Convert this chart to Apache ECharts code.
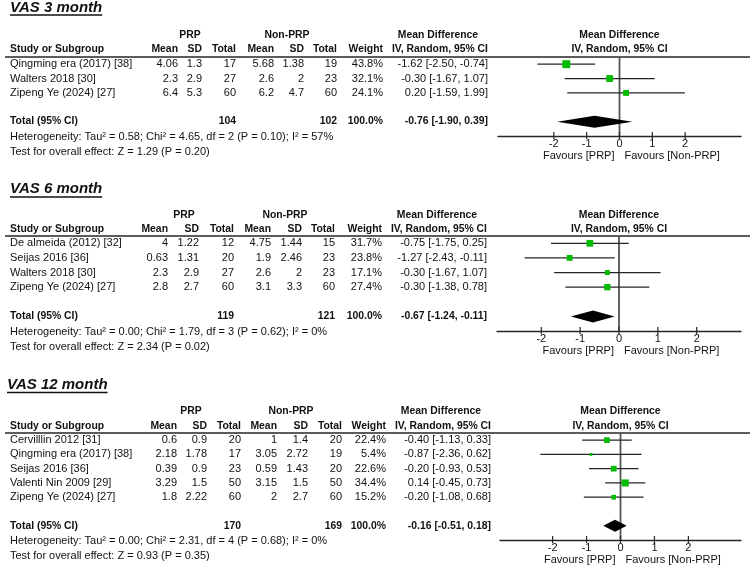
<!DOCTYPE html>
<html><head><meta charset="utf-8">
<script src="https://cdn.jsdelivr.net/npm/echarts@6/dist/echarts.min.js"></script>
<style>html,body{margin:0;padding:0;background:#fff}#c{width:750px;height:584px}</style>
</head><body><div id="c"></div>
<script>
// ---------------- DATA ----------------
const titles = ['VAS 3 month', 'VAS 6 month', 'VAS 12 month'];
const tickValues = [-2, -1, 0, 1, 2];

// VAS 3 month
const p1Studies = ['Qingming era (2017) [38]', 'Walters 2018 [30]', 'Zipeng Ye (2024) [27]'];
const p1PrpMean = [4.06, 2.3, 6.4];
const p1PrpSD = [1.3, 2.9, 5.3];
const p1PrpN = [17, 27, 60];
const p1CtlMean = [5.68, 2.6, 6.2];
const p1CtlSD = [1.38, 2, 4.7];
const p1CtlN = [19, 23, 60];
const p1Weight = [43.8, 32.1, 24.1];
const p1MD = [-1.62, -0.30, 0.20];
const p1Lo = [-2.50, -1.67, -1.59];
const p1Hi = [-0.74, 1.07, 1.99];
const p1TotalN = [104, 102];
const p1TotalMD = [-0.76, -1.90, 0.39];
const p1Het = 'Heterogeneity: Tau² = 0.58; Chi² = 4.65, df = 2 (P = 0.10); I² = 57%';
const p1Test = 'Test for overall effect: Z = 1.29 (P = 0.20)';

// VAS 6 month
const p2Studies = ['De almeida (2012) [32]', 'Seijas 2016 [36]', 'Walters 2018 [30]', 'Zipeng Ye (2024) [27]'];
const p2PrpMean = [4, 0.63, 2.3, 2.8];
const p2PrpSD = [1.22, 1.31, 2.9, 2.7];
const p2PrpN = [12, 20, 27, 60];
const p2CtlMean = [4.75, 1.9, 2.6, 3.1];
const p2CtlSD = [1.44, 2.46, 2, 3.3];
const p2CtlN = [15, 23, 23, 60];
const p2Weight = [31.7, 23.8, 17.1, 27.4];
const p2MD = [-0.75, -1.27, -0.30, -0.30];
const p2Lo = [-1.75, -2.43, -1.67, -1.38];
const p2Hi = [0.25, -0.11, 1.07, 0.78];
const p2TotalN = [119, 121];
const p2TotalMD = [-0.67, -1.24, -0.11];
const p2Het = 'Heterogeneity: Tau² = 0.00; Chi² = 1.79, df = 3 (P = 0.62); I² = 0%';
const p2Test = 'Test for overall effect: Z = 2.34 (P = 0.02)';

// VAS 12 month
const p3Studies = ['Cervilllin 2012 [31]', 'Qingming era (2017) [38]', 'Seijas 2016 [36]', 'Valenti Nin 2009 [29]', 'Zipeng Ye (2024) [27]'];
const p3PrpMean = [0.6, 2.18, 0.39, 3.29, 1.8];
const p3PrpSD = [0.9, 1.78, 0.9, 1.5, 2.22];
const p3PrpN = [20, 17, 23, 50, 60];
const p3CtlMean = [1, 3.05, 0.59, 3.15, 2];
const p3CtlSD = [1.4, 2.72, 1.43, 1.5, 2.7];
const p3CtlN = [20, 19, 20, 50, 60];
const p3Weight = [22.4, 5.4, 22.6, 34.4, 15.2];
const p3MD = [-0.40, -0.87, -0.20, 0.14, -0.20];
const p3Lo = [-1.13, -2.36, -0.93, -0.45, -1.08];
const p3Hi = [0.33, 0.62, 0.53, 0.73, 0.68];
const p3TotalN = [170, 169];
const p3TotalMD = [-0.16, -0.51, 0.18];
const p3Het = 'Heterogeneity: Tau² = 0.00; Chi² = 2.31, df = 4 (P = 0.68); I² = 0%';
const p3Test = 'Test for overall effect: Z = 0.93 (P = 0.35)';

// ---------------- LAYOUT ----------------
const layout = [
  {titleX: 10, titleY: 8, ulY: 15, grpY: 35, hdrY: 49, lineY: 57, axisY: 136,
   cols: [178, 202, 236, 274, 304, 337, 383, 488], prpC: 190, ctlC: 287,
   xMin: -3.7, xMax: 3.7, gridL: 498, gridR: 741},
  {titleX: 10, titleY: 189, ulY: 197, grpY: 215, hdrY: 229, lineY: 236, axisY: 331,
   cols: [168, 199, 234, 271, 302, 335, 382, 487], prpC: 184, ctlC: 285,
   xMin: -3.14, xMax: 3.14, gridL: 497, gridR: 741},
  {titleX: 7, titleY: 384.5, ulY: 392.5, grpY: 411, hdrY: 426, lineY: 433, axisY: 540,
   cols: [177, 207, 241, 277, 308, 342, 386, 491], prpC: 191, ctlC: 291,
   xMin: -3.55, xMax: 3.55, gridL: 500, gridR: 741}
];

const panels = [
  {studies: p1Studies, pm: p1PrpMean, ps: p1PrpSD, pn: p1PrpN, cm: p1CtlMean, cs: p1CtlSD, cn: p1CtlN,
   w: p1Weight, md: p1MD, lo: p1Lo, hi: p1Hi, totN: p1TotalN, tot: p1TotalMD, het: p1Het, test: p1Test},
  {studies: p2Studies, pm: p2PrpMean, ps: p2PrpSD, pn: p2PrpN, cm: p2CtlMean, cs: p2CtlSD, cn: p2CtlN,
   w: p2Weight, md: p2MD, lo: p2Lo, hi: p2Hi, totN: p2TotalN, tot: p2TotalMD, het: p2Het, test: p2Test},
  {studies: p3Studies, pm: p3PrpMean, ps: p3PrpSD, pn: p3PrpN, cm: p3CtlMean, cs: p3CtlSD, cn: p3CtlN,
   w: p3Weight, md: p3MD, lo: p3Lo, hi: p3Hi, totN: p3TotalN, tot: p3TotalMD, het: p3Het, test: p3Test}
];

const FF = '"Liberation Sans", Arial, sans-serif';
const TXT = '#111';
const GREEN = '#00bb00';
const LINE = '#262626';
const BOLD_SIZE = 10.4;

const chart = echarts.init(document.getElementById('c'), null, {renderer: 'canvas'});

const grids = [], xAxes = [], yAxes = [], series = [];
panels.forEach((p, i) => {
  const L = layout[i];
  const n = p.studies.length;
  grids.push({left: L.gridL, width: L.gridR - L.gridL, top: L.lineY, height: L.axisY - L.lineY});
  xAxes.push({
    gridIndex: i, type: 'value', min: L.xMin, max: L.xMax, position: 'bottom',
    axisLine: {show: true, onZero: false, lineStyle: {color: LINE, width: 1.4}},
    axisTick: {show: false},
    axisLabel: {show: true, customValues: tickValues, margin: 2, fontSize: 11, color: TXT, fontFamily: FF},
    splitLine: {show: false}
  });
  yAxes.push({gridIndex: i, type: 'value', min: -0.5, max: n + 2, inverse: true, show: false});

  // zero line
  series.push({
    type: 'custom', xAxisIndex: i, yAxisIndex: i, z: 1, silent: true,
    data: [[0, -0.5, n + 2]],
    encode: {x: 0, y: [1, 2]},
    renderItem: (params, api) => {
      const a = api.coord([api.value(0), api.value(1)]);
      const b = api.coord([api.value(0), api.value(2)]);
      return {type: 'line', shape: {x1: a[0], y1: a[1], x2: b[0], y2: b[1]},
              style: {stroke: '#555', lineWidth: 1.8}};
    }
  });
  // axis ticks crossing the axis line
  series.push({
    type: 'custom', xAxisIndex: i, yAxisIndex: i, z: 2, silent: true,
    data: tickValues.map(v => [v, n + 2]),
    encode: {x: 0, y: 1},
    renderItem: (params, api) => {
      const c = api.coord([api.value(0), api.value(1)]);
      return {type: 'line', shape: {x1: c[0], y1: c[1] - 4, x2: c[0], y2: c[1] + 3},
              style: {stroke: LINE, lineWidth: 1.2}};
    }
  });
  // studies
  series.push({
    type: 'custom', xAxisIndex: i, yAxisIndex: i, z: 3, silent: true,
    data: p.md.map((m, k) => [m, p.lo[k], p.hi[k], k, p.w[k]]),
    encode: {x: [0, 1, 2], y: 3},
    renderItem: (params, api) => {
      const r = api.value(3);
      const a = api.coord([api.value(1), r]);
      const b = api.coord([api.value(2), r]);
      const c = api.coord([api.value(0), r]);
      const s = 1.2 * Math.sqrt(api.value(4));
      return {type: 'group', children: [
        {type: 'line', shape: {x1: a[0], y1: a[1], x2: b[0], y2: b[1]}, style: {stroke: LINE, lineWidth: 1.3}},
        {type: 'rect', shape: {x: c[0] - s / 2, y: c[1] - s / 2, width: s, height: s}, style: {fill: GREEN}}
      ]};
    }
  });
  // total diamond
  series.push({
    type: 'custom', xAxisIndex: i, yAxisIndex: i, z: 3, silent: true,
    data: [[p.tot[0], p.tot[1], p.tot[2], n + 1]],
    encode: {x: [0, 1, 2], y: 3},
    renderItem: (params, api) => {
      const r = api.value(3);
      const a = api.coord([api.value(1), r]);
      const b = api.coord([api.value(2), r]);
      const c = api.coord([api.value(0), r]);
      const h = 6;
      return {type: 'polygon', shape: {points: [[a[0], a[1]], [c[0], c[1] - h], [b[0], b[1]], [c[0], c[1] + h]]},
              style: {fill: '#000'}};
    }
  });
});

chart.setOption({
  animation: false,
  backgroundColor: '#fff',
  grid: grids, xAxis: xAxes, yAxis: yAxes, series: series
});

// ---------------- TABLE TEXT ----------------
const mctx = document.createElement('canvas').getContext('2d');
function txt(x, y, text, align, opts) {
  opts = opts || {};
  const size = opts.size || (opts.bold ? BOLD_SIZE : 11);
  const font = (opts.italic ? 'italic ' : '') + (opts.bold ? 'bold ' : '') + size + 'px ' + FF;
  return {type: 'text', x: x, y: y, silent: true,
    style: {text: String(text), font: font, fill: opts.color || TXT,
            align: align, textAlign: align, verticalAlign: 'middle', textVerticalAlign: 'middle'}};
}
function fmtMD(m, l, h) { return m.toFixed(2) + ' [' + l.toFixed(2) + ', ' + h.toFixed(2) + ']'; }

const gfx = [];
panels.forEach((p, i) => {
  const L = layout[i];
  const n = p.studies.length;
  const finder = {xAxisIndex: i, yAxisIndex: i};
  const rowY = r => chart.convertToPixel(finder, [0, r])[1];
  const x0 = chart.convertToPixel(finder, [0, 0])[0];
  const plotC = (L.gridL + L.gridR) / 2;
  const C = L.cols;

  // title + underline
  const tFont = 'italic bold 15px ' + FF;
  mctx.font = tFont;
  const tw = mctx.measureText(titles[i]).width;
  gfx.push(txt(L.titleX, L.titleY, titles[i], 'left', {bold: true, italic: true, size: 15}));
  gfx.push({type: 'line', silent: true, shape: {x1: L.titleX, y1: L.ulY, x2: L.titleX + tw, y2: L.ulY},
            style: {stroke: TXT, lineWidth: 1.4}});

  // header rows
  gfx.push(txt(L.prpC, L.grpY, 'PRP', 'center', {bold: true}));
  gfx.push(txt(L.ctlC, L.grpY, 'Non-PRP', 'center', {bold: true}));
  gfx.push(txt(C[7] - 50, L.grpY, 'Mean Difference', 'center', {bold: true}));
  gfx.push(txt(plotC, L.grpY, 'Mean Difference', 'center', {bold: true}));
  gfx.push(txt(10, L.hdrY, 'Study or Subgroup', 'left', {bold: true}));
  const hdrs = ['Mean', 'SD', 'Total', 'Mean', 'SD', 'Total', 'Weight', 'IV, Random, 95% CI'];
  hdrs.forEach((h, k) => gfx.push(txt(C[k], L.hdrY, h, 'right', {bold: true})));
  gfx.push(txt(plotC, L.hdrY, 'IV, Random, 95% CI', 'center', {bold: true}));
  gfx.push({type: 'line', silent: true, shape: {x1: 5, y1: L.lineY, x2: 750, y2: L.lineY},
            style: {stroke: LINE, lineWidth: 1.6}});

  // study rows
  p.studies.forEach((s, k) => {
    const y = rowY(k);
    gfx.push(txt(10, y, s, 'left'));
    const vals = [p.pm[k], p.ps[k], p.pn[k], p.cm[k], p.cs[k], p.cn[k], p.w[k].toFixed(1) + '%',
                  fmtMD(p.md[k], p.lo[k], p.hi[k])];
    vals.forEach((v, j) => gfx.push(txt(C[j], y, v, 'right')));
  });

  // total row
  const ty = rowY(n + 1);
  gfx.push(txt(10, ty, 'Total (95% CI)', 'left', {bold: true}));
  gfx.push(txt(C[2], ty, p.totN[0], 'right', {bold: true}));
  gfx.push(txt(C[5], ty, p.totN[1], 'right', {bold: true}));
  gfx.push(txt(C[6], ty, '100.0%', 'right', {bold: true}));
  gfx.push(txt(C[7], ty, fmtMD(p.tot[0], p.tot[1], p.tot[2]), 'right', {bold: true}));

  // footnotes
  gfx.push(txt(10, L.axisY + 1, p.het, 'left'));
  gfx.push(txt(10, L.axisY + 16, p.test, 'left'));

  // favours labels
  gfx.push(txt(x0 - 5, L.axisY + 20, 'Favours [PRP]', 'right'));
  gfx.push(txt(x0 + 5, L.axisY + 20, 'Favours [Non-PRP]', 'left'));
});

chart.setOption({graphic: {elements: gfx}});
</script>
</body></html>
